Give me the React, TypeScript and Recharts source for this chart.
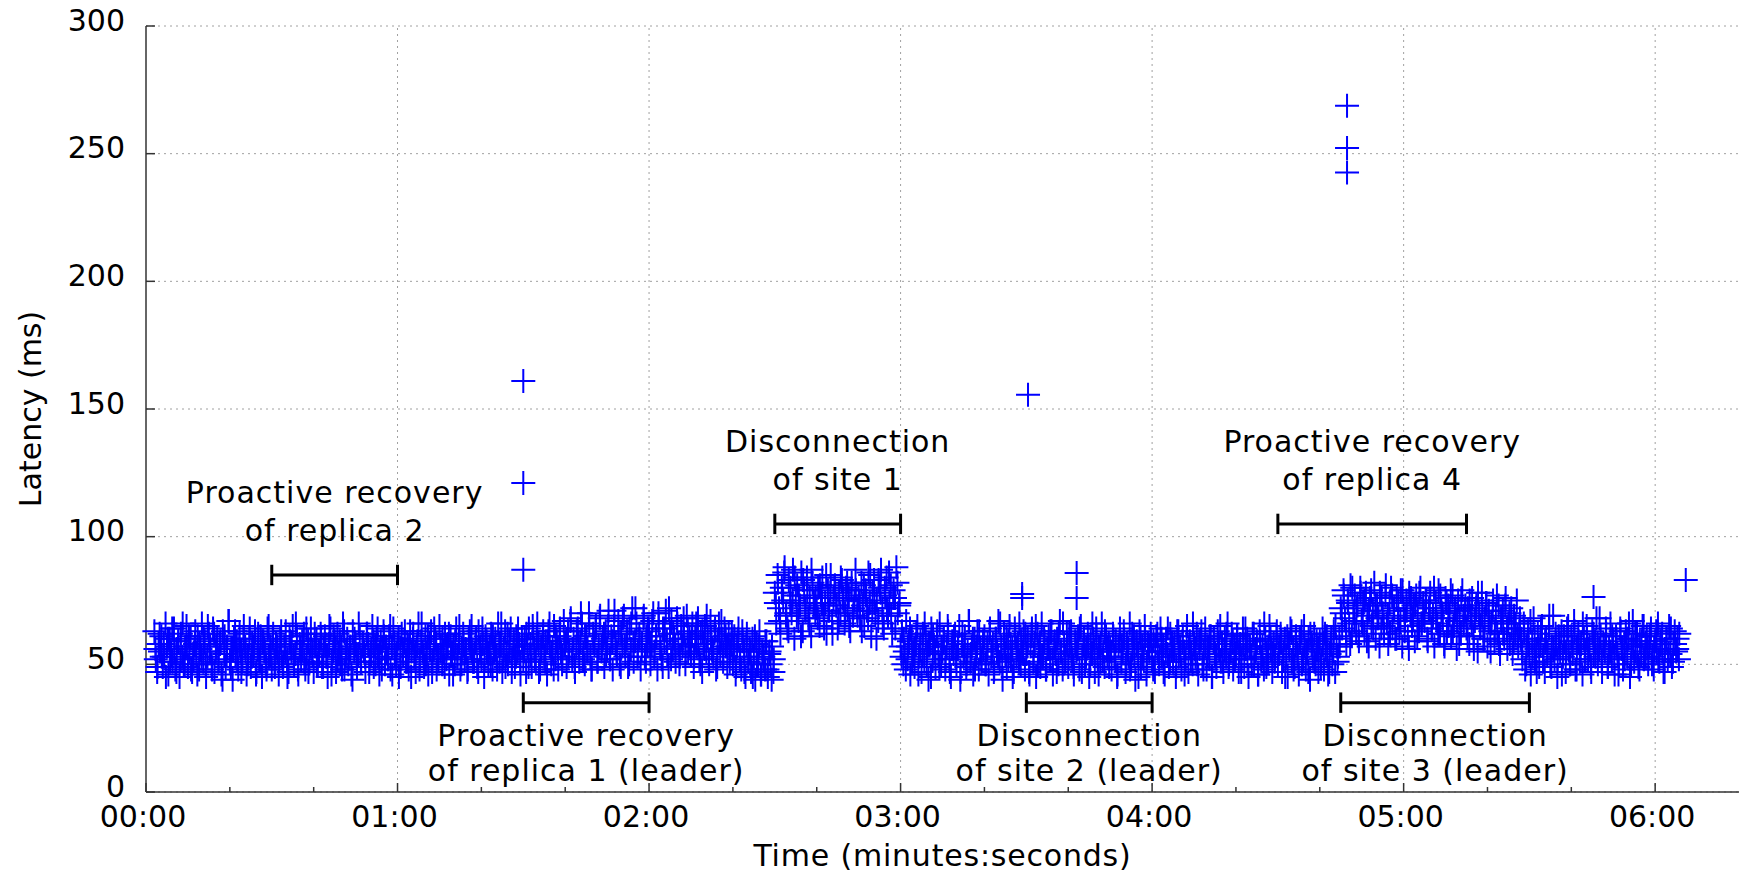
import { ScatterChart, Scatter, XAxis, YAxis, CartesianGrid, ReferenceLine, ReferenceDot } from 'recharts';

const FONT = '"DejaVu Sans", Verdana, sans-serif';
const BLUE = '#0000ff';
const FRAME = '#333333';
const GRID = '#a0a0a0';
const FONT_SIZE = 30;

// latency samples (ms).
// each phase has a main run (3 per second) and a second run (2 per second, offset by 0.25 s)
const MAIN_RATE = 3;
const EXTRA_RATE = 2;
const EXTRA_OFFSET = 0.25;

// 00:02 - 01:30, normal operation
const steady1Start = 2;
const steady1 = [
  63, 52, 47, 58, 55, 61, 49, 53, 66, 57, 46, 60, 54, 51, 64, 48, 56, 59, 45, 62, 53, 50, 57, 65, 49, 55, 60, 47, 52, 58,
  54, 61, 48, 56, 66, 51, 59, 45, 53, 62, 57, 50, 64, 47, 55, 60, 52, 58, 46, 63, 54, 49, 57, 67, 51, 56, 44, 60, 53, 59,
  48, 62, 55, 51, 65, 57, 46, 53, 60, 49, 58, 54, 63, 47, 56, 52, 61, 45, 59, 55, 50, 64, 53, 57, 48, 62, 51, 58, 55, 46,
  60, 53, 49, 57, 63, 52, 47, 59, 55, 65, 50, 54, 61, 46, 58, 52, 56, 62, 48, 53, 59, 51, 64, 55, 47, 57, 60, 50, 54, 62,
  49, 56, 61, 53, 45, 58, 64, 51, 55, 59, 47, 62, 54, 50, 57, 66, 48, 53, 60, 52, 56, 46, 63, 55, 58, 49, 54, 61, 51, 57,
  55, 47, 62, 58, 51, 54, 65, 49, 57, 60, 53, 46, 59, 56, 63, 50, 55, 52, 61, 48, 57, 64, 53, 50, 58, 45, 56, 62, 54, 59,
  51, 58, 48, 63, 55, 60, 53, 47, 57, 66, 52, 59, 55, 49, 61, 54, 46, 58, 63, 51, 56, 60, 48, 53, 65, 57, 50, 55, 62, 52,
  58, 46, 61, 54, 57, 50, 64, 53, 59, 48, 56, 62, 52, 55, 47, 60, 57, 65, 51, 54, 59, 49, 63, 56, 52, 58, 45, 61, 55, 50,
  57, 62, 48, 55, 60, 53, 66, 51, 58, 47, 56, 63, 54, 50, 59, 64, 52, 57, 49, 61, 55, 58, 46, 60,
];
const steady1Extra = [
  56, 49, 62, 53, 58, 45, 60, 51, 64, 55, 47, 59, 52, 66, 50, 57, 61, 48, 54, 63,
  46, 58, 53, 60, 50, 65, 55, 48, 62, 57, 51, 59, 44, 61, 54, 67, 49, 56, 63, 52,
  58, 47, 60, 55, 50, 64, 53, 57, 46, 62, 51, 59, 56, 48, 65, 54, 60, 49, 57, 52,
  63, 50, 55, 45, 61, 58, 53, 66, 48, 56, 59, 51, 64, 47, 57, 54, 62, 50, 55, 60,
  49, 58, 53, 65, 46, 61, 56, 52, 59, 48, 63, 55, 50, 57, 44, 60, 54, 66, 51, 58,
  53, 62, 47, 56, 59, 50, 64, 55, 48, 61, 57, 52, 65, 46, 58, 54, 60, 49, 56, 63,
  51, 57, 45, 62, 55, 59, 48, 66, 53, 50, 61, 56, 47, 64, 58, 52, 55, 60, 49, 57,
  62, 54, 46, 59, 53, 65, 50, 58, 56, 48, 63, 55, 51, 60, 47, 57, 64, 52, 59, 54,
  50, 61, 56, 48, 58, 66, 53, 49, 62, 55, 47, 59, 53, 64, 51, 57,
];

// 01:30 - 02:30, recovery of replica 1
const recovery1Start = 90;
const recovery1 = [
  52, 60, 47, 57, 64, 54, 49, 62, 56, 51, 66, 58, 48, 55, 61, 53, 59, 46, 63, 57, 50, 56, 65, 52, 59, 48, 61, 55, 53, 67,
  58, 49, 63, 55, 68, 52, 60, 47, 57, 64, 51, 59, 66, 54, 50, 61, 56, 70, 53, 48, 62, 58, 65, 51, 57, 69, 55, 60, 49, 63,
  56, 71, 52, 61, 48, 65, 58, 54, 67, 50, 62, 57, 69, 53, 60, 49, 64, 56, 72, 51, 59, 66, 55, 62, 48, 58, 68, 53, 61, 57,
  63, 50, 58, 70, 55, 61, 48, 66, 57, 52, 64, 59, 71, 54, 49, 62, 67, 56, 60, 51, 68, 58, 53, 65, 57, 62, 50, 69, 55, 60,
  54, 66, 49, 60, 57, 68, 52, 62, 47, 58, 65, 55, 61, 50, 67, 56, 53, 63, 48, 59, 66, 54, 60, 51, 64, 57, 49, 62, 55, 58,
  50, 61, 46, 57, 64, 52, 48, 59, 55, 45, 62, 51, 56, 47, 60, 53, 44, 58, 50, 63, 46, 55, 52, 48, 59, 45, 54, 50, 57, 47,
];
const recovery1Extra = [
  55, 62, 49, 58, 65, 52, 60, 47, 57, 63, 51, 59, 66, 54, 48, 61, 56, 64, 50, 58,
  60, 53, 67, 56, 49, 63, 58, 70, 52, 61, 55, 66, 48, 59, 64, 51, 68, 57, 62, 54,
  65, 52, 59, 71, 55, 62, 49, 68, 57, 63, 50, 66, 58, 72, 53, 60, 56, 69, 51, 64,
  58, 67, 53, 61, 70, 56, 49, 64, 59, 72, 52, 62, 57, 66, 50, 60, 68, 55, 63, 58,
  61, 53, 66, 58, 50, 63, 56, 69, 52, 60, 55, 64, 49, 59, 67, 54, 61, 57, 51, 62,
  56, 49, 60, 53, 63, 47, 58, 51, 55, 45, 61, 50, 57, 46, 53, 59, 48, 55, 44, 52,
];

// 02:30 - 03:00, site 1 disconnected
const site1Start = 150;
const site1 = [
  78, 66, 85, 72, 62, 80, 75, 88, 69, 64, 83, 74, 70, 87, 60, 77, 81, 67, 73, 86, 63, 79, 71, 84, 68, 76, 61, 82, 74, 70,
  72, 80, 65, 77, 84, 69, 74, 62, 79, 71, 85, 67, 76, 81, 73, 64, 78, 70, 83, 75, 66, 80, 72, 77, 63, 82, 69, 75, 79, 71,
  76, 68, 82, 73, 65, 79, 71, 86, 74, 61, 78, 83, 70, 75, 67, 80, 87, 72, 64, 77, 84, 69, 74, 81, 62, 79, 76, 88, 70, 73,
];
const site1Extra = [
  74, 82, 67, 78, 86, 70, 63, 80, 75, 84, 69, 77, 61, 83, 72, 79, 66, 87, 73, 76,
  68, 81, 74, 64, 85, 71, 78, 62, 80, 73, 67, 84, 76, 70, 82, 65, 79, 72, 87, 69,
  75, 63, 81, 77, 68, 85, 71, 74, 60, 83, 78, 66, 80, 72, 86, 69, 76, 64, 82, 74,
];

// 03:00 - 04:45
const steady2Start = 180;
const steady2 = [
  57, 63, 50, 55, 67, 52, 59, 46, 61, 54, 49, 58, 65, 53, 56, 47, 62, 51, 60, 55, 44, 58, 64, 52, 57, 49, 61, 54, 66, 50,
  55, 60, 48, 57, 63, 52, 45, 59, 54, 62, 50, 56, 65, 47, 58, 53, 61, 49, 55, 67, 51, 57, 46, 60, 54, 63, 48, 56, 52, 59,
  61, 50, 56, 46, 64, 53, 58, 48, 60, 55, 67, 51, 57, 44, 62, 54, 49, 59, 65, 52, 56, 47, 61, 53, 58, 66, 50, 55, 63, 48,
  54, 60, 47, 57, 64, 51, 58, 45, 62, 55, 49, 66, 53, 59, 48, 56, 61, 52, 63, 46, 57, 54, 60, 50, 67, 55, 48, 58, 53, 62,
  49, 57, 63, 52, 46, 59, 55, 61, 48, 65, 53, 58, 50, 56, 62, 45, 59, 54, 60, 47, 64, 52, 57, 51, 66, 55, 49, 61, 53, 58,
  56, 48, 62, 53, 59, 45, 57, 64, 51, 55, 60, 47, 58, 53, 66, 50, 56, 61, 44, 59, 54, 63, 49, 57, 52, 60, 46, 58, 55, 62,
  52, 59, 47, 61, 55, 50, 64, 53, 57, 46, 60, 54, 49, 62, 56, 51, 58, 45, 63, 53, 57, 48, 61, 55, 52, 65, 47, 59, 54, 50,
  58, 53, 62, 46, 56, 60, 50, 55, 64, 48, 57, 52, 61, 45, 59, 54, 49, 63, 56, 51, 58, 47, 60, 53, 66, 50, 55, 62, 48, 57,
  54, 61, 47, 58, 52, 64, 49, 56, 60, 45, 57, 53, 62, 50, 55, 59, 46, 63, 52, 57, 48, 60, 54, 51, 65, 56, 47, 58, 53, 61,
  50, 57, 62, 47, 55, 60, 53, 45, 58, 64, 51, 56, 49, 61, 54, 46, 59, 63, 52, 57, 48, 55, 60, 44, 58, 53, 62, 50, 56, 47,
  59, 52, 64, 48, 56, 61, 46, 54, 58, 50, 63, 47, 57, 53, 60,
];
const steady2Extra = [
  53, 60, 48, 57, 64, 51, 56, 62, 46, 59, 54, 66, 50, 58, 45, 61, 55, 63, 49, 57,
  59, 52, 65, 47, 56, 61, 53, 58, 44, 62, 55, 50, 67, 54, 60, 48, 57, 63, 51, 56,
  50, 58, 63, 55, 47, 60, 53, 66, 49, 57, 61, 52, 58, 45, 64, 56, 51, 59, 54, 62,
  57, 46, 61, 54, 65, 50, 58, 53, 60, 48, 56, 63, 52, 59, 47, 62, 55, 66, 51, 58,
  62, 54, 49, 58, 56, 64, 47, 60, 53, 57, 50, 66, 55, 61, 46, 58, 52, 63, 56, 49,
  55, 61, 52, 46, 59, 57, 63, 50, 56, 48, 62, 54, 58, 45, 60, 53, 65, 51, 57, 59,
  48, 57, 62, 53, 60, 47, 55, 64, 51, 58, 56, 49, 63, 54, 59, 46, 61, 57, 52, 66,
  56, 50, 59, 63, 48, 57, 54, 61, 45, 60, 53, 58, 65, 51, 56, 62, 49, 55, 59, 52,
  61, 55, 47, 58, 64, 52, 57, 50, 62, 56, 46, 59, 53, 66, 49, 57, 60, 54, 51, 63,
  54, 59, 52, 45, 61, 56, 63, 48, 58, 53, 60, 50, 65, 55, 47, 62, 57, 51, 59, 56,
  49, 58, 62, 54, 47, 60, 55, 65, 51, 57,
];

// 04:45 - 05:28, site 3 disconnected
const site3Start = 285;
const site3 = [
  72, 64, 79, 68, 58, 75, 66, 81, 61, 70, 77, 63, 73, 59, 80, 67, 74, 62, 78, 69, 57, 76, 65, 71, 82, 60, 73, 68, 78, 64,
  70, 62, 77, 66, 58, 74, 80, 64, 71, 60, 76, 68, 63, 79, 57, 72, 67, 75, 61, 78, 69, 65, 73, 59, 77, 70, 63, 80, 66, 74,
  67, 75, 60, 72, 78, 64, 69, 57, 74, 66, 79, 62, 71, 68, 58, 76, 63, 73, 70, 61, 77, 65, 72, 56, 75, 68, 62, 79, 66, 71,
  64, 72, 58, 69, 76, 61, 67, 73, 55, 70, 65, 78, 60, 68, 74, 57, 71, 63, 66, 75, 59, 69, 62, 73, 54, 67, 71, 60, 76, 64,
  66, 58, 72, 54, 69, 62, 75, 57, 64,
];
const site3Extra = [
  70, 77, 63, 74, 58, 80, 67, 72, 61, 78, 66, 75, 59, 71, 79, 64, 73, 68, 57, 76,
  65, 81, 69, 62, 77, 72, 60, 74, 67, 79, 63, 71, 56, 76, 68, 73, 61, 78, 66, 70,
  75, 59, 72, 64, 80, 68, 62, 77, 70, 57, 74, 65, 79, 63, 71, 67, 58, 76, 69, 73,
  61, 75, 66, 56, 72, 78, 64, 69, 60, 74, 67, 55, 71, 63, 77, 58, 68, 62, 73, 56,
  70, 64, 59, 66, 61, 68,
];

// 05:28 - 06:06
const steady3Start = 328;
const steady3 = [
  60, 52, 66, 48, 57, 63, 54, 46, 59, 68, 51, 56, 62, 49, 58, 65, 53, 47, 60, 55, 64, 50, 57, 69, 52, 58, 45, 61, 55, 63,
  53, 59, 47, 64, 56, 50, 61, 54, 67, 48, 57, 62, 51, 58, 46, 60, 55, 65, 52, 57, 49, 63, 54, 59, 68, 50, 56, 61, 47, 58,
  55, 62, 49, 57, 66, 52, 59, 46, 61, 54, 50, 64, 56, 48, 58, 63, 53, 60, 45, 57, 67, 51, 55, 62, 49, 59, 54, 65, 52, 58,
  61, 50, 57, 64, 53, 48, 59, 55, 66, 51, 58, 62, 47, 56, 60, 52, 65, 54, 49, 58, 63, 55, 60, 52,
];
const steady3Extra = [
  55, 63, 50, 58, 67, 53, 60, 47, 57, 64, 51, 59, 54, 69, 49, 56, 62, 52, 58, 46,
  61, 55, 65, 50, 57, 63, 48, 59, 54, 66, 52, 60, 56, 47, 62, 53, 58, 68, 51, 57,
  64, 49, 55, 61, 53, 58, 46, 63, 56, 52, 60, 66, 50, 57, 62, 54, 48, 59, 65, 53,
  57, 61, 50, 56, 63, 52, 59, 55, 47, 60, 54, 64, 51, 58, 56, 62,
];

// isolated spikes [seconds, ms]
const spikes: [number, number][] = [
  [90, 161], [90, 121], [90, 87],
  [209, 77.5], [209, 76], [210.4, 155.6],
  [222, 85.8], [222, 76],
  [286.5, 268.8], [286.5, 252.2], [286.5, 242.6],
  [345.3, 76.4], [367.3, 83],
];

const timeTicks = [0, 20, 40, 60, 80, 100, 120, 140, 160, 180, 200, 220, 240, 260, 280, 300, 320, 340, 360];
const gridTimes = [60, 120, 180, 240, 300, 360];
const latencyTicks = [0, 50, 100, 150, 200, 250, 300];

const brackets = [
  { from: 30, to: 60, at: 85 },
  { from: 90, to: 120, at: 35 },
  { from: 150, to: 180, at: 105 },
  { from: 210, to: 240, at: 35 },
  { from: 270, to: 315, at: 105 },
  { from: 285, to: 330, at: 35 },
];

// text notes: centre time, first line latency, gap to second line (px)
const notes = [
  { t: 45, at: 117.4, gap: 38, lines: ['Proactive recovery', 'of replica 2'] },
  { t: 105, at: 22.4, gap: 35, lines: ['Proactive recovery', 'of replica 1 (leader)'] },
  { t: 165, at: 137.4, gap: 38, lines: ['Disconnection', 'of site 1'] },
  { t: 225, at: 22.4, gap: 35, lines: ['Disconnection', 'of site 2 (leader)'] },
  { t: 292.5, at: 137.4, gap: 38, lines: ['Proactive recovery', 'of replica 4'] },
  { t: 307.5, at: 22.4, gap: 35, lines: ['Disconnection', 'of site 3 (leader)'] },
];

const phases: [number, number[], number[]][] = [
  [steady1Start, steady1, steady1Extra],
  [recovery1Start, recovery1, recovery1Extra],
  [site1Start, site1, site1Extra],
  [steady2Start, steady2, steady2Extra],
  [site3Start, site3, site3Extra],
  [steady3Start, steady3, steady3Extra],
];

const points = [
  ...phases.flatMap(([start, main, extra]) => [
    ...main.map((ms, i) => ({ t: start + i / MAIN_RATE, ms })),
    ...extra.map((ms, i) => ({ t: start + EXTRA_OFFSET + i / EXTRA_RATE, ms })),
  ]),
  ...spikes.map(([t, ms]) => ({ t, ms })),
];

const mmss = (v: number) =>
  `${String(Math.floor(v / 60)).padStart(2, '0')}:${String(v % 60).padStart(2, '0')}`;

const textStyle = { fontFamily: FONT, fontSize: FONT_SIZE, fill: '#000' };

function Cross(props: any) {
  const { cx, cy } = props;
  if (cx == null || cy == null) return null;
  return (
    <path
      d={`M${cx - 12} ${cy}H${cx + 12}M${cx} ${cy - 12}V${cy + 12}`}
      stroke={BLUE}
      strokeWidth={2}
      fill="none"
    />
  );
}

function BottomTick({ x, y, payload }: any) {
  const major = payload.value % 60 === 0;
  return (
    <g>
      <line x1={x} x2={x} y1={y} y2={y - (major ? 9 : 5)} stroke={FRAME} strokeWidth={1.5} />
      {major && (
        <text x={x - 3} y={y + 24} textAnchor="middle" dominantBaseline="central" style={textStyle}>
          {mmss(payload.value)}
        </text>
      )}
    </g>
  );
}

function TopTick({ x, y, payload }: any) {
  const major = payload.value % 60 === 0;
  return <line x1={x} x2={x} y1={y} y2={y + (major ? 9 : 5)} stroke={FRAME} strokeWidth={1.5} />;
}

function LeftTick({ x, y, payload }: any) {
  return (
    <g>
      <line x1={x} x2={x + 9} y1={y} y2={y} stroke={FRAME} strokeWidth={1.5} />
      <text x={x - 21} y={y - 6} textAnchor="end" dominantBaseline="central" style={textStyle}>
        {payload.value}
      </text>
    </g>
  );
}

function RightTick({ x, y }: any) {
  return <line x1={x} x2={x - 9} y1={y} y2={y} stroke={FRAME} strokeWidth={1.5} />;
}

const axisLine = { stroke: FRAME, strokeWidth: 1.5 };

export default function App() {
  return (
    <div style={{ position: 'absolute', left: 0, top: 0, width: 1742, height: 872, background: '#fff' }}>
      <ScatterChart width={1742} height={872} margin={{ top: 26, right: 3, bottom: 0, left: 0 }}>
        <CartesianGrid xAxisId="b" yAxisId="l" stroke={GRID} strokeDasharray="2 4" vertical={false} />
        {gridTimes.map((t) => (
          <ReferenceLine key={`grid-${t}`} xAxisId="b" yAxisId="l" x={t} stroke={GRID} strokeDasharray="2 4" />
        ))}
        <XAxis
          xAxisId="b"
          dataKey="t"
          type="number"
          domain={[0, 380]}
          ticks={timeTicks}
          interval={0}
          height={80}
          tickSize={0}
          tickMargin={0}
          axisLine={axisLine}
          tickLine={false}
          tick={BottomTick}
          label={(p: any) => {
            const vb = p.viewBox;
            return (
              <text
                x={vb.x + vb.width / 2}
                y={vb.y + 63}
                textAnchor="middle"
                dominantBaseline="central"
                style={{ ...textStyle, letterSpacing: 0.8 }}
              >
                Time (minutes:seconds)
              </text>
            );
          }}
        />
        <XAxis
          xAxisId="t"
          orientation="top"
          type="number"
          domain={[0, 380]}
          ticks={timeTicks}
          interval={0}
          height={0}
          tickSize={0}
          tickMargin={0}
          axisLine={axisLine}
          tickLine={false}
          tick={TopTick}
        />
        <YAxis
          yAxisId="l"
          dataKey="ms"
          type="number"
          domain={[0, 300]}
          ticks={latencyTicks}
          interval={0}
          width={146}
          tickSize={0}
          tickMargin={0}
          axisLine={axisLine}
          tickLine={false}
          tick={LeftTick}
          label={(p: any) => {
            const vb = p.viewBox;
            const cx = vb.x + 30;
            const cy = vb.y + vb.height / 2;
            return (
              <text
                x={cx}
                y={cy}
                transform={`rotate(-90 ${cx} ${cy})`}
                textAnchor="middle"
                dominantBaseline="central"
                style={textStyle}
              >
                Latency (ms)
              </text>
            );
          }}
        />
        <YAxis
          yAxisId="r"
          orientation="right"
          type="number"
          domain={[0, 300]}
          ticks={latencyTicks}
          interval={0}
          width={0}
          tickSize={0}
          tickMargin={0}
          axisLine={axisLine}
          tickLine={false}
          tick={RightTick}
        />
        {brackets.map((b, i) => [
          <ReferenceLine
            key={`bar-${i}`}
            xAxisId="b"
            yAxisId="l"
            segment={[{ x: b.from, y: b.at }, { x: b.to, y: b.at }]}
            stroke="#000"
            strokeWidth={3}
          />,
          <ReferenceLine
            key={`capl-${i}`}
            xAxisId="b"
            yAxisId="l"
            segment={[{ x: b.from, y: b.at - 4 }, { x: b.from, y: b.at + 4 }]}
            stroke="#000"
            strokeWidth={3}
          />,
          <ReferenceLine
            key={`capr-${i}`}
            xAxisId="b"
            yAxisId="l"
            segment={[{ x: b.to, y: b.at - 4 }, { x: b.to, y: b.at + 4 }]}
            stroke="#000"
            strokeWidth={3}
          />,
        ])}
        {notes.map((n, i) => (
          <ReferenceDot
            key={`note-${i}`}
            xAxisId="b"
            yAxisId="l"
            x={n.t}
            y={n.at}
            r={0}
            shape={(p: any) => (
              <text
                x={p.cx}
                y={p.cy}
                textAnchor="middle"
                dominantBaseline="central"
                style={{ ...textStyle, letterSpacing: 1 }}
              >
                <tspan x={p.cx} dy={0}>
                  {n.lines[0]}
                </tspan>
                <tspan x={p.cx} dy={n.gap}>
                  {n.lines[1]}
                </tspan>
              </text>
            )}
          />
        ))}
        <Scatter xAxisId="b" yAxisId="l" data={points} shape={Cross} isAnimationActive={false} />
      </ScatterChart>
    </div>
  );
}
